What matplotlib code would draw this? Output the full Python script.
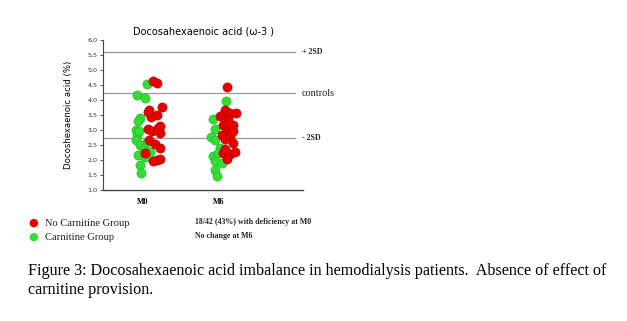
import numpy as np
import matplotlib
matplotlib.use("Agg")
import matplotlib.pyplot as plt
from matplotlib.ticker import FuncFormatter

# values, jitter is the sideways offset in category units
groups = ["M0", "M6"]

m0_red = [4.63, 4.56, 3.67, 3.76, 3.50, 3.44, 3.05, 3.00, 3.13, 2.90, 2.98,
          2.67, 2.55, 2.39, 2.24, 2.00, 2.05, 1.95, 3.61, 3.06]
m0_red_jit = [0.13, 0.18, 0.08, 0.25, 0.18, 0.11, 0.07, 0.18, 0.22, 0.22, 0.12,
              0.08, 0.16, 0.22, 0.03, 0.18, 0.22, 0.13, 0.07, 0.20]
m0_green = [4.53, 4.17, 4.06, 3.39, 3.30, 3.00, 2.85, 2.67, 2.50, 2.40, 2.28,
            2.17, 2.10, 1.83, 1.56, 2.95, 2.60]
m0_green_jit = [0.05, -0.08, 0.03, -0.04, -0.07, -0.09, -0.08, -0.09, -0.04, 0.01, 0.09,
                -0.07, 0.03, -0.04, -0.02, -0.05, 0.05]

m6_red = [4.44, 3.67, 3.55, 3.55, 3.48, 3.40, 3.15, 3.15, 3.00, 2.85, 2.80,
          2.70, 2.57, 2.25, 2.20, 2.05, 2.28, 3.30, 2.95, 2.35]
m6_red_jit = [0.10, 0.08, 0.14, 0.23, 0.01, 0.12, 0.05, 0.18, 0.11, 0.04, 0.14,
              0.08, 0.18, 0.05, 0.14, 0.11, 0.21, 0.12, 0.18, 0.08]
m6_green = [3.97, 3.36, 3.05, 2.78, 2.67, 2.40, 2.30, 2.15, 1.98, 1.90, 1.67,
            1.47, 2.25]
m6_green_jit = [0.09, -0.08, -0.05, -0.10, -0.05, 0.01, 0.08, -0.08, -0.05, 0.04, -0.05,
                -0.03, -0.01]

ref_levels = [5.6, 4.23, 2.73]
ref_labels = ["+ 2SD", "controls", "- 2SD"]
ref_sizes = [5.8, 7.4, 5.8]
ref_weights = ["bold", "normal", "bold"]

RED = "#e80000"
RED_EDGE = "#b00000"
GREEN = "#33dd33"
GREEN_EDGE = "#22b022"

fig = plt.figure(figsize=(6.27, 3.21), dpi=100)
ax = fig.add_axes([103 / 627, 1 - 190 / 321, 200 / 627, 150 / 321])

for i, (g_vals, g_jit, r_vals, r_jit) in enumerate([
        (m0_green, m0_green_jit, m0_red, m0_red_jit),
        (m6_green, m6_green_jit, m6_red, m6_red_jit)]):
    ax.scatter(i + np.array(g_jit), g_vals, s=44, c=GREEN, edgecolors=GREEN_EDGE,
               linewidths=0.4, zorder=3)
    ax.scatter(i + np.array(r_jit), r_vals, s=44, c=RED, edgecolors=RED_EDGE,
               linewidths=0.4, zorder=4)

ax.set_xlim(-0.526, 2.105)
ax.set_ylim(1.0, 6.0)

for lvl, lab, fs, fw in zip(ref_levels, ref_labels, ref_sizes, ref_weights):
    ax.axhline(lvl, xmin=0, xmax=0.96, color="#9a9a9a", lw=0.9, zorder=1)
    ax.text(2.09, lvl, lab, fontsize=fs, family="Liberation Serif", fontweight=fw,
            va="center", ha="left", color="#222222", clip_on=False)

ax.set_yticks(np.arange(1.0, 6.01, 0.5))
ax.yaxis.set_major_formatter(FuncFormatter(lambda v, p: f"{v:.1f}".replace(".", ",")))
ax.tick_params(axis="y", labelsize=4.6, length=2.5, width=0.6, pad=1.5, colors="#333333")
ax.set_xticks([0, 1])
ax.set_xticklabels(groups, fontsize=5.8, family="Liberation Serif", fontweight="bold")
ax.tick_params(axis="x", length=0, pad=6)

for side in ["top", "right"]:
    ax.spines[side].set_visible(False)
ax.spines["left"].set_color("#444444")
ax.spines["bottom"].set_color("#444444")
ax.spines["left"].set_linewidth(0.8)
ax.spines["bottom"].set_linewidth(1.0)

ax.set_ylabel("Docoshexaenoic acid (%)", fontsize=6.1, labelpad=10)
fig.text(204 / 627, 1 - 31 / 321, "Docosahexaenoic acid (\u03c9-3 )", fontsize=7.0,
         ha="center", va="center")

# legend and notes under the chart
fig.text(33 / 627, 1 - 223 / 321, "\u25cf", color=RED, fontsize=8, ha="center", va="center")
fig.text(33 / 627, 1 - 237 / 321, "\u25cf", color=GREEN, fontsize=8, ha="center", va="center")
fig.text(45 / 627, 1 - 223 / 321, "No Carnitine Group", fontsize=7.6,
         family="Liberation Serif", va="center", color="#222222")
fig.text(45 / 627, 1 - 237 / 321, "Carnitine Group", fontsize=7.6,
         family="Liberation Serif", va="center", color="#222222")
fig.text(195 / 627, 1 - 222 / 321, "18/42 (43%) with deficiency at M0", fontsize=5.7,
         family="Liberation Serif", fontweight="bold", va="center", color="#222222")
fig.text(195 / 627, 1 - 236 / 321, "No change at M6", fontsize=5.7,
         family="Liberation Serif", fontweight="bold", va="center", color="#222222")

fig.text(28 / 627, 1 - 271 / 321,
         "Figure 3: Docosahexaenoic acid imbalance in hemodialysis patients.  Absence of effect of",
         fontsize=11.6, family="Liberation Serif", va="center")
fig.text(28 / 627, 1 - 290 / 321, "carnitine provision.", fontsize=11.6,
         family="Liberation Serif", va="center")

fig.savefig("out.png", dpi=100)
